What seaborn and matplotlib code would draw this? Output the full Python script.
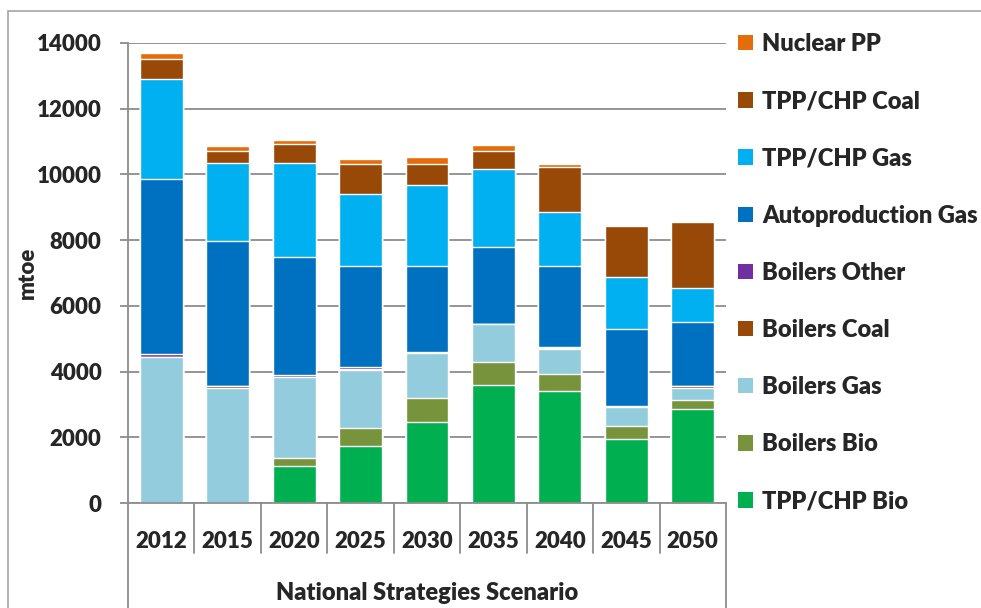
import numpy as np
import pandas as pd
import matplotlib
matplotlib.use("Agg")
import matplotlib.pyplot as plt
import seaborn as sns
from matplotlib.patches import Patch, Rectangle

years = ["2012", "2015", "2020", "2025", "2030", "2035", "2040", "2045", "2050"]

# stack order, bottom to top
tpp_bio = [0, 0, 1130, 1750, 2470, 3595, 3410, 1950, 2865]
boilers_bio = [0, 0, 240, 535, 740, 690, 530, 385, 255]
boilers_gas = [4430, 3500, 2470, 1755, 1370, 1170, 740, 590, 395]
boilers_coal = [0, 60, 0, 50, 0, 0, 40, 0, 50]
boilers_other = [100, 0, 70, 50, 30, 0, 40, 40, 0]
autoprod_gas = [5340, 4420, 3580, 3060, 2590, 2335, 2440, 2335, 1940]
tpp_gas = [3030, 2360, 2850, 2190, 2490, 2385, 1665, 1565, 1025]
tpp_coal = [625, 365, 575, 935, 640, 535, 1360, 1555, 2010]
nuclear = [165, 160, 140, 145, 190, 180, 90, 50, 40]

series = ["TPP/CHP Bio", "Boilers Bio", "Boilers Gas", "Boilers Coal", "Boilers Other",
          "Autoproduction Gas", "TPP/CHP Gas", "TPP/CHP Coal", "Nuclear PP"]
colors = ["#00B050", "#77933C", "#93CDDD", "#984807", "#7030A0",
          "#0070C0", "#00B0F0", "#984807", "#E46C0A"]

df = pd.DataFrame(
    dict(zip(series, [tpp_bio, boilers_bio, boilers_gas, boilers_coal, boilers_other,
                      autoprod_gas, tpp_gas, tpp_coal, nuclear])),
    index=years,
)
cum = df.cumsum(axis=1)

sns.set_theme(style="white")
plt.rcParams["font.family"] = ["Lato", "DejaVu Sans"]
W = "heavy"
FS = 16
LFS = 17
GRAY = "#8c8c8c"

fig = plt.figure(figsize=(9.81, 6.08), dpi=100)
ax = fig.add_axes([128 / 981, 1 - 503 / 608, (726 - 128) / 981, 460 / 608])

# draw cumulative totals from the top layer down so each layer shows its own slice
for name, col in zip(series[::-1], colors[::-1]):
    sns.barplot(x=cum.index, y=cum[name].values, color=col, saturation=1,
                width=0.645, ax=ax, zorder=2)

ax.set_ylim(0, 14000)
ax.set_xlim(-0.5, len(years) - 0.5)
ax.set_yticks(np.arange(0, 14001, 2000))
ax.yaxis.grid(True, color=GRAY, linewidth=1.3)
ax.set_axisbelow(True)

for s in ["top", "right"]:
    ax.spines[s].set_visible(False)
for s in ["left", "bottom"]:
    ax.spines[s].set_color(GRAY)
    ax.spines[s].set_linewidth(1.3)

ax.tick_params(axis="y", direction="out", length=6, width=1.3, color=GRAY,
               pad=13, labelsize=FS, left=True)
ax.tick_params(axis="x", length=0, pad=20, labelsize=FS)
for lab in ax.get_xticklabels() + ax.get_yticklabels():
    lab.set_fontweight(W)
ax.set_xlabel("")
ax.set_ylabel("mtoe", fontsize=FS, fontweight=W)
ax.yaxis.set_label_coords(-0.15, 0.5)

# multi-level category axis lines
tr = ax.get_xaxis_transform()
for i in range(len(years) - 1):
    ax.plot([i + 0.5, i + 0.5], [0, -0.109], transform=tr, color=GRAY,
            linewidth=1.3, clip_on=False)
for xe in [-0.5, len(years) - 0.5]:
    ax.plot([xe, xe], [0, -0.23], transform=tr, color=GRAY,
            linewidth=1.3, clip_on=False)
ax.text((len(years) - 1) / 2, -0.196, "National Strategies Scenario", transform=tr,
        ha="center", va="center", fontsize=LFS, fontweight=W)

handles = [Patch(facecolor=c, edgecolor="none") for c in colors[::-1]]
leg = ax.legend(handles, series[::-1], loc="upper left",
                bbox_to_anchor=(738 / 981, 1 - 33 / 608),
                bbox_transform=fig.transFigure, frameon=False,
                prop={"weight": W, "size": LFS},
                handlelength=0.62, handleheight=0.62, handletextpad=0.4,
                labelspacing=1.49, borderpad=0, borderaxespad=0)

# outer chart border
fig.patches.append(Rectangle((8 / 981, -0.1), 1.2, 1 - 11 / 608 + 0.1,
                             transform=fig.transFigure, fill=False,
                             edgecolor="#a6a6a6", linewidth=1.2))

fig.savefig("out.png", dpi=100)
